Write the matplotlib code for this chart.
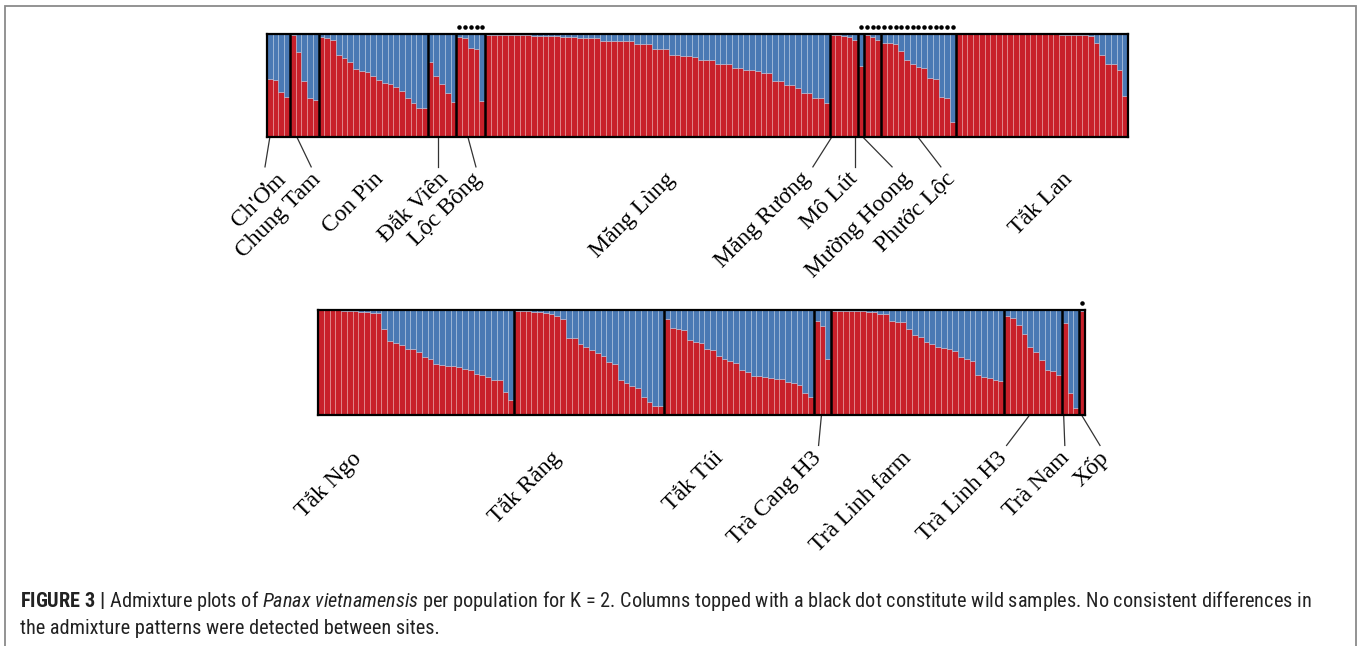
import numpy as np
import matplotlib.pyplot as plt
from matplotlib import font_manager
from matplotlib.transforms import blended_transform_factory
from matplotlib.patches import Rectangle


# Data: red (cluster 1) fraction per sample, grouped by population
TOP_GROUPS = ["Ch'Ơm", "Chung Tam", "Con Pin", "Đắk Viên", "Lộc Bông", "Măng Lùng",
              "Măng Rương", "Mô Lút", "Mường Hoong", "Phước Lộc", "Tắk Lan"]
chom = [0.56, 0.55, 0.44, 0.39]
chung_tam = [0.99, 0.83, 0.54, 0.38, 0.36]
con_pin = [0.974, 0.961, 0.945, 0.799, 0.766, 0.724, 0.659, 0.643, 0.627, 0.588,
           0.549, 0.523, 0.516, 0.484, 0.451, 0.383, 0.328, 0.286, 0.286]
dak_vien = [0.724, 0.588, 0.513, 0.425, 0.344]
loc_bong = [0.971, 0.961, 0.864, 0.857, 0.351]
mang_lung = [0.995, 0.993, 0.992, 0.990, 0.989, 0.988, 0.987, 0.986, 0.985, 0.984,
             0.982, 0.980, 0.978, 0.971, 0.970, 0.968, 0.966, 0.961, 0.960, 0.958,
             0.935, 0.935, 0.935, 0.935, 0.933, 0.932, 0.906, 0.905, 0.905, 0.857,
             0.857, 0.855, 0.799, 0.799, 0.782, 0.782, 0.780, 0.750, 0.750, 0.748,
             0.708, 0.708, 0.706, 0.669, 0.668, 0.646, 0.646, 0.644, 0.620, 0.620,
             0.539, 0.539, 0.506, 0.506, 0.480, 0.425, 0.425, 0.383, 0.383, 0.328]
mang_ruong = [0.987, 0.987, 0.977, 0.968, 0.945]
mo_lut = [0.685]
muong_hoong = [0.987, 0.968, 0.945]
phuoc_loc = [0.912, 0.912, 0.903, 0.838, 0.750, 0.708, 0.675, 0.669, 0.571, 0.562,
             0.393, 0.377, 0.149]
tak_lan = [0.999, 0.999, 0.999, 0.999, 0.999, 0.998, 0.998, 0.998, 0.998, 0.998,
           0.998, 0.997, 0.997, 0.997, 0.997, 0.996, 0.996, 0.996, 0.995, 0.994,
           0.992, 0.990, 0.987, 0.977, 0.912, 0.792, 0.708, 0.708, 0.653, 0.399]
top_values = [chom, chung_tam, con_pin, dak_vien, loc_bong, mang_lung,
              mang_ruong, mo_lut, muong_hoong, phuoc_loc, tak_lan]

BOTTOM_GROUPS = ["Tắk Ngo", "Tắk Răng", "Tắk Túi", "Trà Cang H3", "Trà Linh farm",
                 "Trà Linh H3", "Trà Nam", "Xốp"]
tak_ngo = [0.997, 0.997, 0.997, 0.997, 0.994, 0.994, 0.990, 0.984, 0.981, 0.974,
           0.968, 0.815, 0.708, 0.682, 0.669, 0.633, 0.627, 0.601, 0.552, 0.529,
           0.487, 0.474, 0.471, 0.464, 0.455, 0.438, 0.432, 0.390, 0.383, 0.360,
           0.334, 0.334, 0.221, 0.146]
tak_rang = [0.994, 0.990, 0.987, 0.984, 0.977, 0.974, 0.961, 0.945, 0.919, 0.731,
            0.731, 0.675, 0.649, 0.617, 0.594, 0.562, 0.506, 0.487, 0.334, 0.308,
            0.276, 0.253, 0.172, 0.123, 0.084, 0.084]
tak_tui = [0.919, 0.831, 0.815, 0.805, 0.714, 0.692, 0.682, 0.633, 0.617, 0.562,
           0.529, 0.519, 0.497, 0.432, 0.409, 0.373, 0.367, 0.360, 0.357, 0.341,
           0.341, 0.318, 0.302, 0.286, 0.214, 0.172]
tra_cang_h3 = [0.893, 0.844, 0.529]
tra_linh_farm = [0.994, 0.994, 0.990, 0.990, 0.987, 0.987, 0.984, 0.984, 0.961, 0.961,
                 0.896, 0.886, 0.886, 0.821, 0.766, 0.740, 0.698, 0.675, 0.649, 0.636,
                 0.633, 0.610, 0.555, 0.529, 0.519, 0.377, 0.360, 0.357, 0.334, 0.328]
tra_linh_h3 = [0.945, 0.925, 0.854, 0.773, 0.643, 0.604, 0.523, 0.425, 0.422, 0.383]
tra_nam = [0.880, 0.211, 0.065]
xop = [0.994]
bottom_values = [tak_ngo, tak_rang, tak_tui, tra_cang_h3, tra_linh_farm,
                 tra_linh_h3, tra_nam, xop]

# populations made of wild samples (dot on top of every column)
WILD = ["Lộc Bông", "Mô Lút", "Mường Hoong", "Phước Lộc", "Xốp"]

# label placement (x in sample units, end of rotated label) and leader lines
top_label_x = [2.7, 8.8, 19.7, 31.1, 36.9, 70.6, 94.1, 102.4, 111.8, 119.4, 139.7]
top_leaders = [(0.5, -0.35), (5.2, 7.7), None, (29.8, 29.8), (35.0, 36.4), None,
               (98.4, 95.1), (102.4, 102.4), (103.8, 108.9), (113.4, 117.4), None]
bottom_label_x = [6.9, 41.6, 69.8, 86.7, 102.3, 119.0, 129.8, 136.6]
bottom_leaders = [None, None, None, (87.3, 86.8), None, (123.4, 119.4),
                  (129.3, 129.5), (132.4, 135.6)]

RED = '#c8202a'
BLUE = '#4a79b4'
W, H = 1360, 646


def pick_font(names, fallback):
    have = {f.name for f in font_manager.fontManager.ttflist}
    for n in names:
        if n in have:
            return n, True
    return fallback, False


def draw_panel(ax, groups, values, label_x, leaders):
    red = np.concatenate(values)
    n = len(red)
    x = np.arange(n)
    edge = (1, 1, 1, 0.3)
    ax.bar(x, red, width=1, align='edge', color=RED, edgecolor=edge, linewidth=0.5)
    ax.bar(x, 1 - red, bottom=red, width=1, align='edge', color=BLUE,
           edgecolor=edge, linewidth=0.5)
    ax.set_xlim(0, n)
    ax.set_ylim(0, 1)
    ax.set_xticks([])
    ax.set_yticks([])
    for s in ax.spines.values():
        s.set_linewidth(1.6)
        s.set_color('black')

    trans = blended_transform_factory(ax.transData, ax.transAxes)
    start = 0
    for i, (g, v) in enumerate(zip(groups, values)):
        end = start + len(v)
        if end < n:
            ax.axvline(end, color='black', lw=1.8)
        if g in WILD:
            ax.scatter(np.arange(start, end) + 0.5, np.full(len(v), 1.07), s=5,
                       color='black', clip_on=False, transform=trans, zorder=5)
        ax.text(label_x[i], -0.38, g, transform=trans, rotation=45,
                rotation_mode='anchor', ha='right', va='center', fontsize=17,
                family='Liberation Serif', clip_on=False)
        if leaders[i] is not None:
            x0, x1 = leaders[i]
            ax.plot([x0, x1], [0, -0.29], color='#333333', lw=0.9,
                    transform=trans, clip_on=False)
        start = end


fig = plt.figure(figsize=(W / 100, H / 100), dpi=100)

ax_top = fig.add_axes([267 / W, 1 - 137 / H, 861 / W, 103 / H])
draw_panel(ax_top, TOP_GROUPS, top_values, top_label_x, top_leaders)

ax_bot = fig.add_axes([318 / W, 1 - 415 / H, 767 / W, 105 / H])
draw_panel(ax_bot, BOTTOM_GROUPS, bottom_values, bottom_label_x, bottom_leaders)

# frame around the figure
fig.patches.append(Rectangle((5 / W, -0.05), 1351 / W, 1.05 - 6 / H,
                             transform=fig.transFigure, fill=False,
                             edgecolor='#8a8a8a', lw=1.3))

# caption
cap_font, narrow = pick_font(['Liberation Sans Narrow', 'Roboto Condensed'],
                             'Liberation Sans')
cap_size = 14.6 if narrow else 11.2
plt.rcParams['mathtext.fontset'] = 'custom'
plt.rcParams['mathtext.rm'] = cap_font
plt.rcParams['mathtext.it'] = cap_font + ':italic'
plt.rcParams['mathtext.bf'] = cap_font + ':bold'
line1 = (r"$\mathbf{FIGURE\ 3\ |}$ Admixture plots of $\mathit{Panax\ vietnamensis}$ "
         "per population for K = 2. Columns topped with a black dot constitute wild "
         "samples. No consistent differences in")
line2 = "the admixture patterns were detected between sites."
fig.text(20 / W, 1 - 601 / H, line1, family=cap_font, fontsize=cap_size,
         va='center', color='#222222')
fig.text(20 / W, 1 - 628 / H, line2, family=cap_font, fontsize=cap_size,
         va='center', color='#222222')

fig.savefig('out.png', dpi=100)
